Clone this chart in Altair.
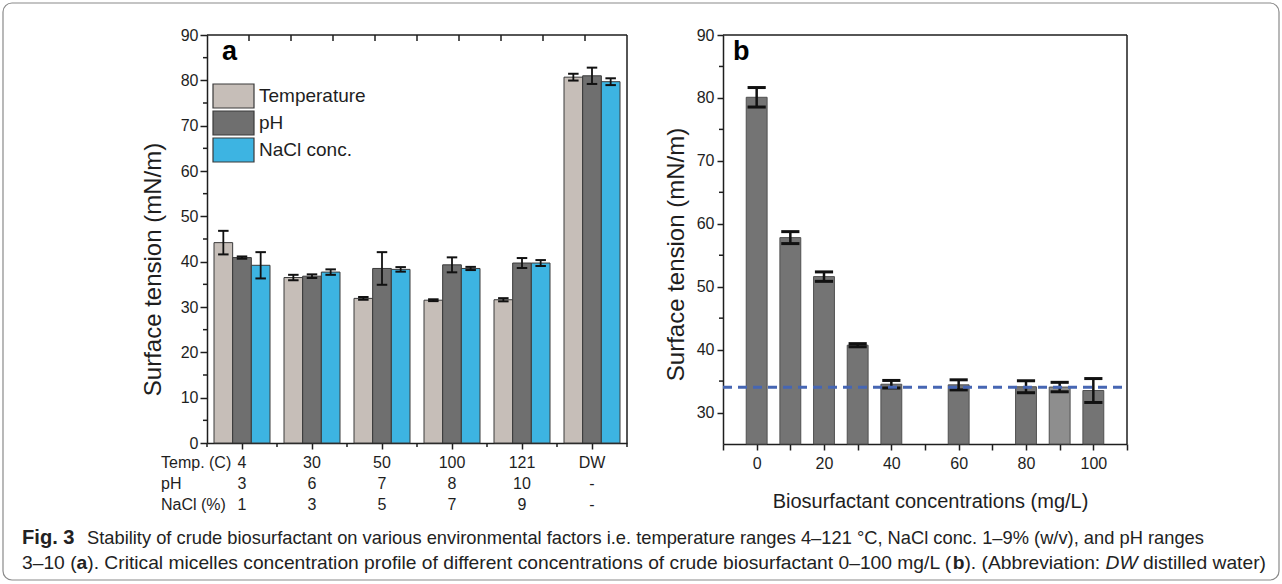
import altair as alt
import pandas as pd

# ---------------- data ----------------
groups = ["4", "30", "50", "100", "121", "DW"]
temp_labels = ["4", "30", "50", "100", "121", "DW"]
ph_labels = ["3", "6", "7", "8", "10", "-"]
nacl_labels = ["1", "3", "5", "7", "9", "-"]
row_titles = ["Temp. (C)", "pH", "NaCl (%)"]
series = ["Temperature", "pH", "NaCl conc."]

temp_vals = [44.2, 36.5, 31.9, 31.5, 31.6, 80.7]
temp_errs = [2.6, 0.6, 0.3, 0.2, 0.35, 0.75]
ph_vals = [40.9, 36.8, 38.5, 39.3, 39.7, 81.0]
ph_errs = [0.25, 0.4, 3.6, 1.65, 1.1, 1.8]
nacl_vals = [39.2, 37.7, 38.3, 38.5, 39.7, 79.7]
nacl_errs = [2.9, 0.6, 0.5, 0.35, 0.65, 0.75]

conc = [0, 10, 20, 30, 40, 60, 80, 90, 100]
tension = [80.1, 57.8, 51.6, 40.7, 34.5, 34.4, 34.1, 34.05, 33.5]
tension_err = [1.55, 0.95, 0.75, 0.25, 0.6, 0.8, 0.95, 0.75, 1.9]
cmc_level = [34.0]

a_yticks = list(range(0, 91, 10))
a_yminor = list(range(5, 90, 10))
a_top_ticks = [-0.5 + 0.6 * k for k in range(1, 10)]
b_yticks = list(range(30, 91, 10))
b_yminor = list(range(35, 90, 10))
b_xticks = list(range(-10, 111, 10))

panel_labels = ["a", "b"]
caption1_bold = "Fig. 3"
caption1 = ("Stability of crude biosurfactant on various environmental factors i.e. "
            "temperature ranges 4\u2013121 \u00b0C, NaCl conc. 1\u20139% (w/v), and pH ranges")
caption2 = [
    ("3\u201310 (", "normal", "normal"),
    ("a", "bold", "normal"),
    ("). Critical micelles concentration profile of different concentrations of crude "
     "biosurfactant 0\u2013100 mg/L (", "normal", "normal"),
    ("b", "bold", "normal"),
    ("). (Abbreviation: ", "normal", "normal"),
    ("DW", "normal", "italic"),
    (" distilled water)", "normal", "normal"),
]

# ---------------- styles ----------------
FONT = "Liberation Sans, Arial, Helvetica, sans-serif"
INK = "#1e1e1e"
series_colors = ["#C6BEB8", "#6F6F6F", "#3DB4E2"]
bar_b_color = "#747474"
bar_b_light = "#8E8E8E"
cmc_color = "#4666B3"

# ---------------- helpers ----------------
_REG = {' ': 278, '(': 333, ')': 333, '.': 278, ',': 278, '/': 278, ':': 278, '%': 889,
        '\u2013': 556, '\u00b0': 400, '-': 333}
for d in "0123456789":
    _REG[d] = 556
_REG.update(dict(zip("ABCDEFGHIJKLMNOPQRSTUVWXYZ",
                     [667, 667, 722, 722, 667, 611, 778, 722, 278, 500, 667, 556, 833,
                      722, 778, 667, 778, 722, 667, 611, 722, 667, 944, 667, 667, 611])))
_REG.update(dict(zip("abcdefghijklmnopqrstuvwxyz",
                     [556, 556, 500, 556, 556, 278, 556, 556, 222, 222, 500, 222, 833,
                      556, 556, 556, 556, 333, 500, 278, 556, 500, 722, 500, 500, 500])))
_BOLD = dict(_REG)
_BOLD.update({'F': 611, 'i': 278, 'g': 611, 'a': 556, 'b': 611, '3': 556, '.': 278})


def em(s, bold=False):
    t = _BOLD if bold else _REG
    return sum(t.get(c, 556) for c in s) / 1000.0


def sc(dom, rng):
    return alt.Scale(domain=dom, range=rng, nice=False, zero=False)


XA = ([-0.5, 5.5], [207, 627])
YA = ([0, 90], [443, 35])
XB = ([-10, 110], [723, 1127])
YB = ([25, 90], [444, 35])

axis_style = dict(grid=False, domainColor=INK, tickColor=INK, labelColor=INK, titleColor=INK,
                  domainWidth=1.5, tickWidth=1.5, labelFont=FONT, titleFont=FONT)

one = pd.DataFrame({"k": [0]})

# ---------------- panel a ----------------
rows = []
for si, (s, vals, errs) in enumerate(zip(series, [temp_vals, ph_vals, nacl_vals],
                                         [temp_errs, ph_errs, nacl_errs])):
    for gi, (g, v, e) in enumerate(zip(groups, vals, errs)):
        rows.append(dict(series=s, si=si, gi=gi, value=v, err=e))
df_a = pd.DataFrame(rows)
BW = 0.8 / 3
df_a["xl"] = df_a.gi - 0.4 + df_a.si * BW
df_a["xr"] = df_a.xl + BW
df_a["xc"] = df_a.xl + BW / 2
df_a["lo"] = df_a.value - df_a.err
df_a["hi"] = df_a.value + df_a.err
df_a["zero"] = 0.0
df_a["capl"] = df_a.xc - 0.075
df_a["capr"] = df_a.xc + 0.075

bars_a = alt.Chart(df_a).mark_rect(stroke="#3a3a3a", strokeWidth=1).encode(
    x=alt.X("xl:Q", scale=sc(*XA),
            axis=alt.Axis(orient="bottom", offset=-141, values=list(range(6)),
                          labels=False, tickSize=6, title=None, **axis_style)),
    x2="xr:Q",
    y=alt.Y("value:Q", scale=sc(*YA),
            axis=alt.Axis(orient="left", offset=-207, values=a_yticks, tickSize=7,
                          labelFontSize=16, labelPadding=2, title="Surface tension (mN/m)",
                          titleFontSize=24, titleFontWeight="normal", titleAngle=270,
                          titleX=-47, titleY=269, titleAlign="center",
                          titleBaseline="alphabetic", **axis_style)),
    y2="zero:Q",
    fill=alt.Fill("series:N", scale=alt.Scale(domain=series, range=series_colors), legend=None),
)
err_a = alt.Chart(df_a).mark_rule(color="#111", strokeWidth=1.8).encode(
    x=alt.X("xc:Q", scale=sc(*XA), axis=None),
    y=alt.Y("lo:Q", scale=sc(*YA), axis=None), y2="hi:Q")
caplo_a = alt.Chart(df_a).mark_rule(color="#111", strokeWidth=2).encode(
    x=alt.X("capl:Q", scale=sc(*XA), axis=None), x2="capr:Q",
    y=alt.Y("lo:Q", scale=sc(*YA), axis=None))
caphi_a = alt.Chart(df_a).mark_rule(color="#111", strokeWidth=2).encode(
    x=alt.X("capl:Q", scale=sc(*XA), axis=None), x2="capr:Q",
    y=alt.Y("hi:Q", scale=sc(*YA), axis=None))

frame_a = pd.DataFrame({"x0": [-0.5, 5.5], "x1": [5.5, 5.5], "y0": [90, 0], "y1": [90, 90]})
frame_a_layer = alt.Chart(frame_a).mark_rule(color=INK, strokeWidth=1.5).encode(
    x=alt.X("x0:Q", scale=sc(*XA), axis=None), x2="x1:Q",
    y=alt.Y("y0:Q", scale=sc(*YA), axis=None), y2="y1:Q")
minor_x_a = alt.Chart(pd.DataFrame({"m": [g - 0.5 for g in range(7)]})).mark_rule(
    color=INK, strokeWidth=1.5).encode(
    x=alt.X("m:Q", scale=sc(*XA), axis=None), y=alt.value(443), y2=alt.value(447))
minor_y_a = alt.Chart(pd.DataFrame({"m": a_yminor})).mark_rule(color=INK, strokeWidth=1.5).encode(
    y=alt.Y("m:Q", scale=sc(*YA), axis=None), x=alt.value(203), x2=alt.value(207))
top_ticks_a = alt.Chart(pd.DataFrame({"m": a_top_ticks})).mark_rule(
    color=INK, strokeWidth=1.5).encode(
    x=alt.X("m:Q", scale=sc(*XA), axis=None), y=alt.value(35), y2=alt.value(41))

# bottom multi-row labels of panel a
lab_rows = []
for ri, labs in enumerate([temp_labels, ph_labels, nacl_labels]):
    for gi, l in enumerate(labs):
        lab_rows.append(dict(row=ri, gi=gi, label=l))
df_lab = pd.DataFrame(lab_rows)
YROW = ([0, 2], [468, 510])
row_vals = alt.Chart(df_lab).mark_text(fontSize=16, font=FONT, color=INK, baseline="alphabetic").encode(
    x=alt.X("gi:Q", scale=sc(*XA), axis=None),
    y=alt.Y("row:Q", scale=sc(*YROW), axis=None),
    text="label:N")
row_heads = alt.Chart(pd.DataFrame({"row": [0, 1, 2], "t": row_titles})).mark_text(
    fontSize=16, font=FONT, color=INK, align="left", baseline="alphabetic").encode(
    x=alt.value(161), y=alt.Y("row:Q", scale=sc(*YROW), axis=None), text="t:N")

# legend of panel a
df_leg = pd.DataFrame({"series": series, "idx": [0, 1, 2]})
df_leg["idx2"] = df_leg.idx + 24 / 27
df_leg["mid"] = df_leg.idx + 12 / 27
YLEG = ([0, 3], [84, 165])
leg_sw = alt.Chart(df_leg).mark_rect(stroke="#3a3a3a", strokeWidth=1.2).encode(
    x=alt.value(213), x2=alt.value(254),
    y=alt.Y("idx:Q", scale=sc(*YLEG), axis=None), y2="idx2:Q",
    fill=alt.Fill("series:N", scale=alt.Scale(domain=series, range=series_colors), legend=None))
leg_tx = alt.Chart(df_leg).mark_text(fontSize=19, font=FONT, color=INK, align="left",
                                     baseline="middle").encode(
    x=alt.value(259), y=alt.Y("mid:Q", scale=sc(*YLEG), axis=None), text="series:N")

# ---------------- panel b ----------------
df_b = pd.DataFrame({"conc": conc, "value": tension, "err": tension_err})
df_b["xl"] = df_b.conc - 3.1
df_b["xr"] = df_b.conc + 3.1
df_b["lo"] = df_b.value - df_b.err
df_b["hi"] = df_b.value + df_b.err
df_b["base"] = 25.0
df_b["capl"] = df_b.conc - 2.7
df_b["capr"] = df_b.conc + 2.7

bars_b = alt.Chart(df_b).mark_rect(stroke="#505050", strokeWidth=1).encode(
    x=alt.X("xl:Q", scale=sc(*XB),
            axis=alt.Axis(orient="bottom", offset=-140, values=b_xticks, tickSize=6,
                          labelExpr="datum.value % 20 == 0 ? datum.label : ''",
                          labelFontSize=16, labelPadding=5,
                          title="Biosurfactant concentrations (mg/L)", titleFontSize=20,
                          titleFontWeight="normal", titleX=930, titleY=63,
                          titleBaseline="alphabetic", titleAlign="center", **axis_style)),
    x2="xr:Q",
    y=alt.Y("value:Q", scale=sc(*YB),
            axis=alt.Axis(orient="left", offset=-723, values=b_yticks, tickSize=6,
                          labelFontSize=16, labelPadding=3, title="Surface tension (mN/m)",
                          titleFontSize=24, titleFontWeight="normal", titleAngle=270,
                          titleX=-40, titleY=254, titleAlign="center",
                          titleBaseline="alphabetic", **axis_style)),
    y2="base:Q",
    fill=alt.condition(alt.datum.conc == 90, alt.value(bar_b_light), alt.value(bar_b_color)),
)
err_b = alt.Chart(df_b).mark_rule(color="#111", strokeWidth=2.5).encode(
    x=alt.X("conc:Q", scale=sc(*XB), axis=None),
    y=alt.Y("lo:Q", scale=sc(*YB), axis=None), y2="hi:Q")
caplo_b = alt.Chart(df_b).mark_rule(color="#111", strokeWidth=3).encode(
    x=alt.X("capl:Q", scale=sc(*XB), axis=None), x2="capr:Q",
    y=alt.Y("lo:Q", scale=sc(*YB), axis=None))
caphi_b = alt.Chart(df_b).mark_rule(color="#111", strokeWidth=3).encode(
    x=alt.X("capl:Q", scale=sc(*XB), axis=None), x2="capr:Q",
    y=alt.Y("hi:Q", scale=sc(*YB), axis=None))
df_cmc = pd.DataFrame({"cmc": cmc_level, "x0": [-10], "x1": [110]})
cmc_line = alt.Chart(df_cmc).mark_rule(color=cmc_color, strokeWidth=3, strokeDash=[9, 6]).encode(
    y=alt.Y("cmc:Q", scale=sc(*YB), axis=None),
    x=alt.X("x0:Q", scale=sc(*XB), axis=None), x2="x1:Q")
frame_b = pd.DataFrame({"x0": [-10, 110], "x1": [110, 110], "y0": [90, 25], "y1": [90, 90]})
frame_b_layer = alt.Chart(frame_b).mark_rule(color=INK, strokeWidth=1.5).encode(
    x=alt.X("x0:Q", scale=sc(*XB), axis=None), x2="x1:Q",
    y=alt.Y("y0:Q", scale=sc(*YB), axis=None), y2="y1:Q")
minor_y_b = alt.Chart(pd.DataFrame({"m": b_yminor})).mark_rule(color=INK, strokeWidth=1.5).encode(
    y=alt.Y("m:Q", scale=sc(*YB), axis=None), x=alt.value(719), x2=alt.value(723))

# ---------------- panel letters ----------------
letters = alt.Chart(pd.DataFrame({"t": panel_labels, "px": [222, 733]})).mark_text(
    fontSize=27, fontWeight="bold", font=FONT, color="#000", align="left", baseline="alphabetic").encode(
    x=alt.X("px:Q", scale=sc([0, 1282], [0, 1282]), axis=None),
    y=alt.value(60), text="t:N")

# ---------------- caption ----------------
size1 = (1205 - 87) / em(caption1)
line2_em = sum(em(t, bold=(w == "bold")) for t, w, s in caption2)
size2 = (1266 - 22) / line2_em
cap_parts = [dict(t=caption1_bold, x=22, y=544, w="bold", s="normal", fs=size1 * 1.1),
             dict(t=caption1, x=87, y=544, w="normal", s="normal", fs=size1)]
cx = 22.0
for txt, wgt, sty in caption2:
    lead = len(txt) - len(txt.lstrip(" "))
    core = txt.strip(" ")
    cx += em(" " * lead) * size2
    cap_parts.append(dict(t=core, x=cx, y=569, w=wgt, s=sty, fs=size2))
    cx += em(core, bold=(wgt == "bold")) * size2
    trail = len(txt) - len(txt.rstrip(" "))
    cx += em(" " * trail) * size2

cap_layers = []
for p in cap_parts:
    cap_layers.append(
        alt.Chart(pd.DataFrame({"t": [p["t"]]})).mark_text(
            font=FONT, fontSize=p["fs"], fontWeight=p["w"], fontStyle=p["s"], color="#222",
            align="left", baseline="alphabetic").encode(
            x=alt.value(p["x"]), y=alt.value(p["y"]), text="t:N"))

border = alt.Chart(one).mark_rect(fill=None, stroke="#8a8a8a", strokeWidth=1.2, cornerRadius=9).encode(
    x=alt.value(3), x2=alt.value(1279), y=alt.value(3), y2=alt.value(580))

chart = alt.layer(
    bars_a, err_a, caplo_a, caphi_a, frame_a_layer, minor_x_a, minor_y_a, top_ticks_a,
    row_vals, row_heads, leg_sw, leg_tx,
    bars_b, err_b, caplo_b, caphi_b, cmc_line, frame_b_layer, minor_y_b,
    letters, *cap_layers, border
).resolve_scale(x="independent", y="independent", fill="independent").properties(
    width=1282, height=584, padding=0, autosize=alt.AutoSizeParams(type="none"),
    background="white").configure_view(stroke=None)

chart.save("out.html", embed_options={"renderer": "svg", "actions": False})
